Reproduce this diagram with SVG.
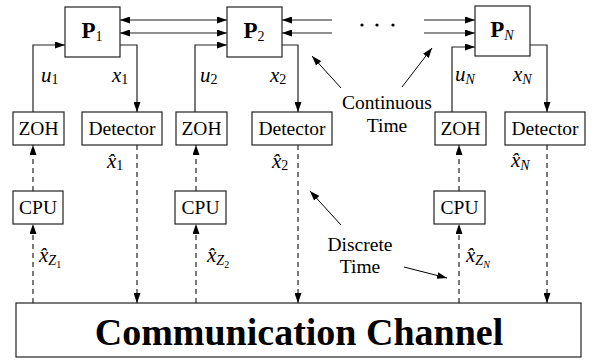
<svg xmlns="http://www.w3.org/2000/svg" width="598" height="360" viewBox="0 0 598 360">
  <defs>
    <marker id="head" viewBox="0 0 10 7" refX="10" refY="3.5" markerWidth="10" markerHeight="7" markerUnits="userSpaceOnUse" orient="auto-start-reverse">
      <path d="M0,0 L10,3.5 L0,7 z" fill="#000"/>
    </marker>
    <style>
      text { font-family: 'Liberation Serif', 'Times New Roman', serif; fill: #000; }
      .box { fill: #fff; stroke: #222; stroke-width: 1.2; }
      .txt { font-size: 19.5px; }
      .plant { font-size: 23px; font-weight: bold; }
      .math { font-size: 21px; font-style: italic; }
      .sub { font-size: 14px; }
      .up { font-style: normal; }
      .big { font-size: 38px; font-weight: bold; }
      .wire { fill: none; stroke: #222; stroke-width: 1.2; }
      .dash { fill: none; stroke: #222; stroke-width: 1.2; stroke-dasharray: 5 4; }
      .note { fill: none; stroke: #000; stroke-width: 1; }
    </style>
  </defs>

  <!-- connectors -->
  <g id="connectors">
    <!-- coupling between plants -->
    <line class="wire" x1="120" y1="20" x2="227" y2="20" marker-start="url(#head)" marker-end="url(#head)"/>
    <line class="wire" x1="120" y1="33" x2="227" y2="33" marker-start="url(#head)" marker-end="url(#head)"/>
    <line class="wire" x1="332" y1="20" x2="282" y2="20" marker-end="url(#head)"/>
    <line class="wire" x1="332" y1="33" x2="282" y2="33" marker-end="url(#head)"/>
    <line class="wire" x1="424" y1="20" x2="475" y2="20" marker-end="url(#head)"/>
    <line class="wire" x1="424" y1="33" x2="475" y2="33" marker-end="url(#head)"/>

    <!-- control inputs from ZOH -->
    <polyline class="wire" points="33,112 33,45 65,45" marker-end="url(#head)"/>
    <polyline class="wire" points="195,112 195,45 227,45" marker-end="url(#head)"/>
    <polyline class="wire" points="452,112 452,47 475,47" marker-end="url(#head)"/>

    <!-- plant states to detectors -->
    <polyline class="wire" points="120,45 137,45 137,112" marker-end="url(#head)"/>
    <polyline class="wire" points="282,45 298,45 298,112" marker-end="url(#head)"/>
    <polyline class="wire" points="530,45 547,45 547,112" marker-end="url(#head)"/>

    <!-- sampled links -->
    <line class="dash" x1="33" y1="191" x2="33" y2="145" marker-end="url(#head)"/>
    <line class="dash" x1="196" y1="191" x2="196" y2="145" marker-end="url(#head)"/>
    <line class="dash" x1="459" y1="191" x2="459" y2="145" marker-end="url(#head)"/>

    <line class="dash" x1="33" y1="303" x2="33" y2="224" marker-end="url(#head)"/>
    <line class="dash" x1="196" y1="303" x2="196" y2="224" marker-end="url(#head)"/>
    <line class="dash" x1="459" y1="303" x2="459" y2="224" marker-end="url(#head)"/>

    <line class="dash" x1="137" y1="145" x2="137" y2="303" marker-end="url(#head)"/>
    <line class="dash" x1="298" y1="145" x2="298" y2="303" marker-end="url(#head)"/>
    <line class="dash" x1="547" y1="145" x2="547" y2="303" marker-end="url(#head)"/>

    <!-- annotation pointers -->
    <line class="note" x1="341" y1="88" x2="312" y2="56" marker-end="url(#head)"/>
    <line class="note" x1="402" y1="87" x2="432" y2="48" marker-end="url(#head)"/>
    <line class="note" x1="341" y1="225" x2="310" y2="191" marker-end="url(#head)"/>
    <line class="note" x1="404" y1="267" x2="447" y2="278" marker-end="url(#head)"/>
  </g>

  <!-- plants -->
  <g id="p1">
    <rect class="box" x="65" y="7" width="55" height="50"/>
    <text class="plant" x="92" y="38" text-anchor="middle">P<tspan class="sub" dy="3" font-weight="normal">1</tspan></text>
  </g>
  <g id="p2">
    <rect class="box" x="227" y="7" width="55" height="50"/>
    <text class="plant" x="254" y="38" text-anchor="middle">P<tspan class="sub" dy="3" font-weight="normal">2</tspan></text>
  </g>
  <g id="pn">
    <rect class="box" x="475" y="6" width="55" height="50"/>
    <text class="plant" x="502" y="37" text-anchor="middle">P<tspan class="sub" dy="3" font-weight="normal" font-style="italic">N</tspan></text>
  </g>

  <!-- ellipsis between plants -->
  <g id="dots" fill="#000">
    <circle cx="362" cy="25" r="1.6"/>
    <circle cx="377" cy="25" r="1.6"/>
    <circle cx="393" cy="25" r="1.6"/>
  </g>

  <!-- zero-order holds -->
  <g id="zoh1">
    <rect class="box" x="13" y="112" width="51" height="33"/>
    <text class="txt" x="38.5" y="135" text-anchor="middle">ZOH</text>
  </g>
  <g id="zoh2">
    <rect class="box" x="176" y="112" width="51" height="33"/>
    <text class="txt" x="201.5" y="135" text-anchor="middle">ZOH</text>
  </g>
  <g id="zohn">
    <rect class="box" x="435" y="112" width="51" height="33"/>
    <text class="txt" x="460.5" y="135" text-anchor="middle">ZOH</text>
  </g>

  <!-- detectors -->
  <g id="det1">
    <rect class="box" x="82" y="112" width="80" height="33"/>
    <text class="txt" x="122" y="135" text-anchor="middle">Detector</text>
  </g>
  <g id="det2">
    <rect class="box" x="252" y="112" width="80" height="33"/>
    <text class="txt" x="292" y="135" text-anchor="middle">Detector</text>
  </g>
  <g id="detn">
    <rect class="box" x="505" y="112" width="80" height="33"/>
    <text class="txt" x="545" y="135" text-anchor="middle">Detector</text>
  </g>

  <!-- processors -->
  <g id="cpu1">
    <rect class="box" x="13" y="191" width="50" height="33"/>
    <text class="txt" x="38" y="214" text-anchor="middle">CPU</text>
  </g>
  <g id="cpu2">
    <rect class="box" x="175" y="191" width="51" height="33"/>
    <text class="txt" x="200.5" y="214" text-anchor="middle">CPU</text>
  </g>
  <g id="cpun">
    <rect class="box" x="434" y="191" width="51" height="33"/>
    <text class="txt" x="459.5" y="214" text-anchor="middle">CPU</text>
  </g>

  <!-- network -->
  <g id="channel">
    <rect class="box" x="16" y="303" width="565" height="54"/>
    <text class="big" x="299" y="345" text-anchor="middle">Communication Channel</text>
  </g>

  <!-- signal labels -->
  <g id="labels">
    <text class="math" x="41" y="82">u<tspan class="sub up" dy="2">1</tspan></text>
    <text class="math" x="112" y="82">x<tspan class="sub up" dy="2">1</tspan></text>
    <text class="math" x="200" y="82">u<tspan class="sub up" dy="2">2</tspan></text>
    <text class="math" x="270" y="82">x<tspan class="sub up" dy="2">2</tspan></text>
    <text class="math" x="455" y="81">u<tspan class="sub" dy="3">N</tspan></text>
    <text class="math" x="513" y="81">x<tspan class="sub" dy="3">N</tspan></text>

    <text class="math" x="107" y="168">x̂<tspan class="sub up" dy="2">1</tspan></text>
    <text class="math" x="272" y="168">x̂<tspan class="sub up" dy="2">2</tspan></text>
    <text class="math" x="511" y="167">x̂<tspan class="sub" dy="3">N</tspan></text>

    <text class="math" x="39" y="262">x̂<tspan class="sub" dy="3">Z</tspan><tspan class="up" font-size="10" dy="3">1</tspan></text>
    <text class="math" x="207" y="262">x̂<tspan class="sub" dy="3">Z</tspan><tspan class="up" font-size="10" dy="3">2</tspan></text>
    <text class="math" x="466" y="262">x̂<tspan class="sub" dy="3">Z</tspan><tspan font-size="10" dy="3">N</tspan></text>

    <text class="txt" x="387" y="109" text-anchor="middle">Continuous</text>
    <text class="txt" x="387" y="132" text-anchor="middle">Time</text>
    <text class="txt" x="360" y="251" text-anchor="middle">Discrete</text>
    <text class="txt" x="360" y="273" text-anchor="middle">Time</text>
  </g>
</svg>
